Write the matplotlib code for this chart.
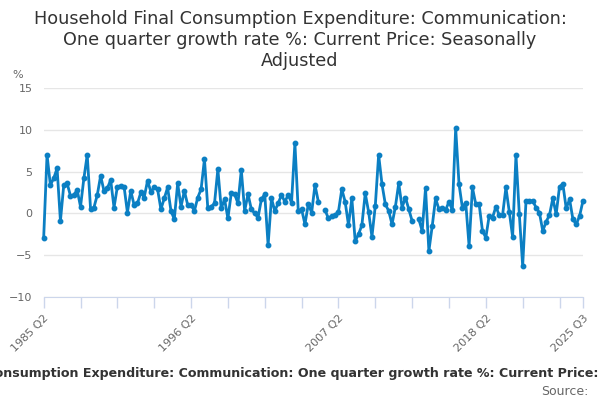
import numpy as np
import matplotlib
matplotlib.use('Agg')
import matplotlib.pyplot as plt

TITLE = ('Household Final Consumption Expenditure: Communication:\n'
         'One quarter growth rate %: Current Price: Seasonally\nAdjusted')
CAPTION = ('Household Final Consumption Expenditure: Communication: '
           'One quarter growth rate %: Current Price: Seasonally Adjusted')

# quarterly growth rate %, 1985 Q2 .. 2025 Q3 (nan = missing)
growth = [
    -2.9, 7.0, 3.4, 4.2, 5.4, -0.9, 3.4, 3.6, 2.1, 2.2,
    2.8, 0.8, 4.2, 7.0, 0.5, 0.7, 2.2, 4.5, 2.7, 3.0,
    4.0, 0.7, 3.2, 3.3, 3.2, 0.1, 2.7, 1.0, 1.2, 2.5,
    1.9, 3.9, 2.6, 3.1, 2.9, 0.5, 1.8, 3.1, 0.3, -0.7,
    3.6, 0.8, 2.7, 1.0, 1.0, 0.3, 1.9, 2.9, 6.5, 0.6,
    0.8, 1.2, 5.3, 0.6, 1.7, -0.6, 2.4, 2.3, 1.2, 5.2,
    0.3, 2.3, 0.5, 0.0, -0.5, 1.7, 2.3, -3.8, 1.8, 0.3,
    1.2, 2.2, 1.4, 2.2, 1.3, 8.4, 0.3, 0.5, -1.3, 1.1,
    0.1, 3.4, 1.4, np.nan, 0.4, -0.6, -0.3, -0.2, 0.2, 2.9,
    1.4, -1.4, 1.8, -3.3, -2.5, -1.4, 2.4, 0.2, -2.8, 0.9,
    7.0, 3.5, 1.1, 0.3, -1.3, 0.8, 3.6, 0.7, 1.9, 0.5,
    -0.9, np.nan, -0.7, -2.1, 3.0, -4.5, -1.5, 1.8, 0.5, 0.7,
    0.4, 1.4, 0.4, 10.2, 3.5, 0.7, 1.3, -3.9, 3.1, 1.1,
    1.1, -2.1, -2.9, -0.3, -0.5, 0.8, -0.2, -0.2, 3.1, 0.2,
    -2.8, 7.0, -0.1, -6.3, 1.5, 1.5, 1.5, 0.7, 0.1, -2.1,
    -1.0, -0.2, 1.8, -0.1, 3.2, 3.5, 0.6, 1.7, -0.7, -1.3,
    -0.3, 1.5,
]
y_ticks = [-10, -5, 0, 5, 10, 15]
x_labels = ['1985 Q2', '1996 Q2', '2007 Q2', '2018 Q2', '2025 Q3']

quarters = []
for year in range(1985, 2026):
    for q in range(1, 5):
        if (year, q) >= (1985, 2) and (year, q) <= (2025, 3):
            quarters.append(f'{year} Q{q}')

LINE = '#0b7fc3'
GREY = '#666666'
AXIS = '#ccd6eb'

fig = plt.figure(figsize=(6, 4), dpi=100)
ax = fig.add_axes([0.0728, 0.2575, 0.8988, 0.5225])

x = np.arange(len(quarters))
ax.plot(x, growth, color=LINE, linewidth=2, marker='o', markersize=3.2,
        clip_on=False, zorder=3)

ax.set_xlim(0, len(quarters) - 1)
ax.set_ylim(-10, 15)
ax.set_yticks(y_ticks)
ax.yaxis.grid(True, color='#e6e6e6', linewidth=1)
ax.set_axisbelow(True)
ax.tick_params(axis='y', length=0, labelsize=8, labelcolor=GREY, pad=8)

major = [quarters.index(lbl) for lbl in x_labels]
minor = list(range(0, len(quarters), 11))
ax.set_xticks(major)
ax.set_xticklabels(x_labels)
ax.set_xticks(minor, minor=True)
ax.tick_params(axis='x', which='both', length=8, color=AXIS, width=1,
               labelsize=8, labelcolor=GREY)
for lbl in ax.get_xticklabels():
    lbl.set_rotation(45)
    lbl.set_ha('right')
    lbl.set_va('top')
    lbl.set_rotation_mode('anchor')

for side in ('left', 'right', 'top'):
    ax.spines[side].set_visible(False)
ax.spines['bottom'].set_color(AXIS)

fig.text(0.02, 0.805, '%', fontsize=8, color=GREY)
fig.suptitle(TITLE, y=0.975, fontsize=12.7, color='#333333', linespacing=1.2)
fig.text(0.512, 0.058, CAPTION, ha='center', fontsize=9.1, fontweight='bold',
         color='#333333')
fig.text(0.98, 0.013, 'Source:', ha='right', fontsize=9, color=GREY)

fig.savefig('out.png', dpi=100)
plt.close(fig)
